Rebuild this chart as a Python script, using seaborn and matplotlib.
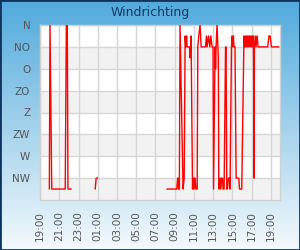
import numpy as np
import pandas as pd
import matplotlib
matplotlib.use("Agg")
import matplotlib.pyplot as plt
import matplotlib.dates as mdates
from matplotlib.patches import Rectangle
import seaborn as sns

# ---- data ----
title = "Windrichting"
dir_labels = ["N", "NO", "O", "ZO", "Z", "ZW", "W", "NW"]
dir_ticks = [0, 45, 90, 135, 180, 225, 270, 315]

times_a = ["2024-05-01 19:58", "2024-05-01 20:02", "2024-05-01 20:13", "2024-05-01 21:37",
           "2024-05-01 21:44", "2024-05-01 21:50", "2024-05-01 21:54", "2024-05-01 22:15"]
dirs_a = [337.5, 0, 337.5, 337.5, 0, 0, 337.5, 337.5]

times_b = ["2024-05-02 00:44", "2024-05-02 00:50", "2024-05-02 00:59"]
dirs_b = [337.5, 315, 315]

times_c_hm = ["08:11", "09:13", "09:18", "09:21", "09:24", "09:29", "09:33", "09:52", "09:59",
              "10:05", "10:09", "10:14", "10:17", "10:34", "10:36", "10:39", "10:42", "10:51",
              "10:55", "10:59", "11:03", "11:07", "11:12", "11:20", "11:24", "11:30", "11:38",
              "11:45", "12:12", "12:18", "12:22", "12:31", "12:39", "12:45", "12:53", "12:59",
              "13:02", "13:12", "13:15", "13:18", "13:24", "13:32", "13:35", "13:43", "13:47",
              "13:53", "13:58", "14:02", "14:08", "14:17", "14:20", "14:25", "14:29", "14:35",
              "14:43", "14:45", "14:54", "14:58", "15:02", "15:06", "15:10", "15:16", "15:23",
              "15:40", "15:44", "15:58", "16:12", "16:17", "16:21", "16:25", "16:29", "16:34",
              "16:37", "16:42", "16:46", "16:50", "16:54", "16:59", "17:02", "17:07", "17:11",
              "17:15", "17:17", "17:24", "17:27", "17:34", "17:40", "18:40", "18:48", "18:55",
              "19:03", "19:49"]
dirs_c = [337.5, 337.5, 315, 315, 337.5, 337.5, 0, 337.5, 315,
          22.5, 45, 22.5, 45, 45, 67.5, 45, 22.5, 337.5,
          315, 337.5, 315, 315, 337.5, 337.5, 45, 22.5, 0,
          45, 45, 22.5, 45, 22.5, 45, 22.5, 45, 45,
          337.5, 45, 90, 45, 0, 67.5, 337.5, 315, 337.5,
          315, 315, 337.5, 337.5, 45, 45, 337.5, 337.5, 315,
          315, 337.5, 45, 22.5, 45, 22.5, 45, 45, 315,
          315, 337.5, 337.5, 22.5, 45, 22.5, 45, 22.5, 45,
          22.5, 45, 22.5, 45, 22.5, 45, 22.5, 45, 22.5,
          315, 45, 22.5, 45, 22.5, 45, 45, 22.5, 22.5,
          45, 45]
times_c = ["2024-05-02 " + t for t in times_c_hm]

x_start = "2024-05-01 19:00"
x_end = "2024-05-02 19:57"

# ---- frame ----
df = pd.concat([
    pd.DataFrame({"time": pd.to_datetime(times_a), "dir": dirs_a, "seg": 0}),
    pd.DataFrame({"time": pd.to_datetime(times_b), "dir": dirs_b, "seg": 1}),
    pd.DataFrame({"time": pd.to_datetime(times_c), "dir": dirs_c, "seg": 2}),
], ignore_index=True)

sns.set_style("white")
plt.rcParams["font.family"] = ["DejaVu Sans"]

fig = plt.figure(figsize=(3.0, 2.5), dpi=100)

# background gradient
bg = fig.add_axes([0, 0, 1, 1], zorder=-10)
top = np.array([80, 170, 220]) / 255.0
bot = np.array([244, 249, 252]) / 255.0
t = np.linspace(0, 1, 256)[:, None]
grad = top[None, :] * (1 - t) + bot[None, :] * t
bg.imshow(grad[:, None, :], aspect="auto", extent=[0, 1, 0, 1], origin="upper")
bg.set_axis_off()

ax = fig.add_axes([0.1335, 0.2, 0.8, 0.7])
ax.set_facecolor("white")
for lo in [45, 135, 225, 315]:
    ax.axhspan(lo, lo + 45, color="#f2f2f2", zorder=0, lw=0)

sns.lineplot(data=df, x="time", y="dir", units="seg", estimator=None,
             color="#ff0000", linewidth=1.0, legend=False, ax=ax, zorder=3)

ax.set_ylim(360, 0)
ax.set_yticks(dir_ticks)
ax.set_yticklabels(dir_labels)
ax.set_xlim(pd.Timestamp(x_start), pd.Timestamp(x_end))
ax.xaxis.set_major_locator(mdates.HourLocator(byhour=range(1, 24, 2)))
ax.xaxis.set_major_formatter(mdates.DateFormatter("%H:%M"))
ax.set_xlabel("")
ax.set_ylabel("")
ax.grid(True, color="#d6d6d6", linewidth=1.0, zorder=1)
ax.set_axisbelow(True)
ax.tick_params(axis="x", length=0, pad=8, labelsize=7.5, labelcolor="#555555", rotation=90)
ax.tick_params(axis="y", length=0, pad=7, labelsize=7.5, labelcolor="#555555")
for s in ax.spines.values():
    s.set_color("#d0d0d0")
    s.set_linewidth(1.0)

fig.text(0.5, 1 - 12.5 / 250, title, ha="center", va="center",
         fontsize=9, color="#123a66")

fig.add_artist(Rectangle((0, 0), 1, 1, transform=fig.transFigure, fill=False,
                         edgecolor="#0d3560", linewidth=2.0, zorder=20))

fig.savefig("out.png", dpi=100)
